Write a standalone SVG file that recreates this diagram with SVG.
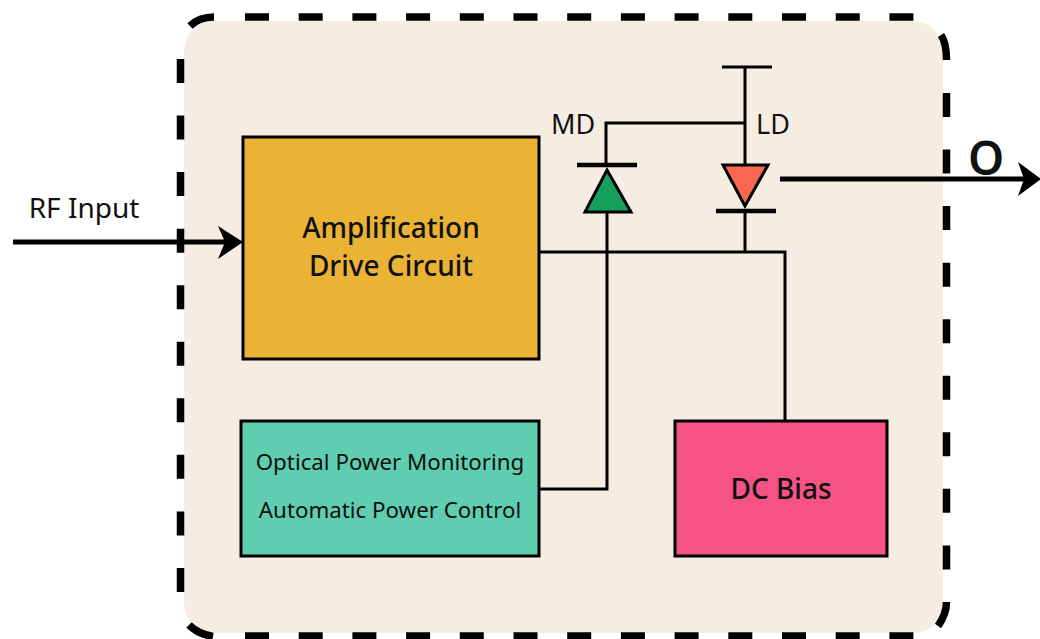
<svg xmlns="http://www.w3.org/2000/svg" width="1040" height="639" viewBox="0 0 1040 639">
<style>
text{font-family:"Noto Sans","Open Sans",sans-serif;fill:#111;text-anchor:middle}
.b{stroke:#000;stroke-width:3}
.w{fill:none;stroke:#000;stroke-width:3}
.a{fill:none;stroke:#000;stroke-width:5}
.d{fill:none;stroke:#000;stroke-width:7.500}
.h{stroke-dasharray:24 29.700}
.v{stroke-dasharray:24 32.550}
</style>
<rect width="1040" height="639" fill="#fff"/>
<g id="frame">
<rect x="184" y="21" width="759" height="612" rx="30" fill="#f5ede2"/>
<path class="d" d="M190 26Q199 17 214 17M189 625Q198 634 213 636.500M941 35Q946.500 43 946.500 60M946.500 602Q946.500 614 938 626"/>
<path class="d h" d="M245 17H914M245 636H914"/>
<path class="d v" d="M180.500 59V594M946.500 93V570"/>
</g>
<g id="connectors">
<path class="a" d="M13 242H232"/><path d="M243 242L218 226L225 242L218 259Z"/>
<path class="a" d="M780 179H1030"/><path d="M1041 179L1018 162L1024 179L1018 196Z"/>
<path class="w" d="M539 252H785V420M745 212V252M745 67V164M722 67H772M606 164V123H745M607 212V489H539"/>
</g>
<g id="amp"><rect class="b" x="243" y="137" width="296" height="222" fill="#eab336"/><text x="391" y="238" font-size="28" font-weight="500">Amplification</text><text x="391" y="276" font-size="28" font-weight="500">Drive Circuit</text></g>
<g id="opm"><rect class="b" x="241" y="421" width="298" height="135" fill="#5fcdb0"/><text x="390" y="470" font-size="22.300">Optical Power Monitoring</text><text x="390" y="518" font-size="22.300">Automatic Power Control</text></g>
<g id="dc"><rect class="b" x="675" y="421" width="212" height="135" fill="#f55385"/><text x="781" y="499" font-size="28" font-weight="500">DC Bias</text></g>
<g id="md"><path class="b" d="M607 170L631 212H585Z" fill="#16a060"/><path fill="none" stroke="#000" stroke-width="4.500" d="M577 165H637"/><text x="573" y="134" font-size="27">MD</text></g>
<g id="ld"><path class="b" d="M745 206L723 165H768Z" fill="#fa6750"/><path fill="none" stroke="#000" stroke-width="4.500" d="M716 211H776"/><text x="773" y="134" font-size="27">LD</text></g>
<g id="labels"><text x="84" y="218" font-size="28">RF Input</text><text x="986" y="175" font-size="46" font-weight="600">O</text></g>
</svg>
